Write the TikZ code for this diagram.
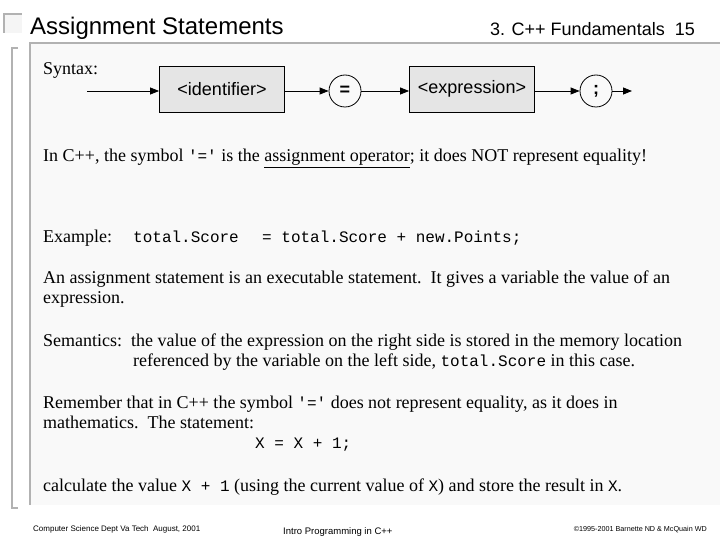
\documentclass[tikz,border=0pt]{standalone}
\usepackage{fontspec}
\setmainfont{Liberation Serif}
\setsansfont{Liberation Sans}
\setmonofont{Liberation Mono}
\usetikzlibrary{arrows.meta}
\newcommand{\cd}[1]{{\fontsize{16}{18}\selectfont\texttt{#1}}}
\tikzset{
  txt/.style={anchor=base west, inner sep=0pt, font=\fontsize{18}{20}\selectfont},
  synbox/.style={draw, thick, fill=gray!20, minimum width=125pt, minimum height=46pt, font=\sffamily\fontsize{18}{20}\selectfont},
  syncirc/.style={draw, thick, circle, minimum size=32pt, inner sep=0pt, font=\sffamily\bfseries\fontsize{18}{20}\selectfont},
  synarr/.style={thick, -{Triangle[length=9pt,width=7pt]}},
  foot/.style={inner sep=0pt, font=\sffamily\fontsize{8}{9}\selectfont}
}
\begin{document}
\begin{tikzpicture}[x=1pt, y=-1pt]
\useasboundingbox (0,0) rectangle (720,540);
% frame
\fill[gray!8] (4,14) rectangle (22,33);
\draw[gray!60, line width=1.5pt] (4,33) -- (4,14) -- (22,14);
\draw[gray!60, line width=1.5pt] (18,48) -- (12,48) -- (12,508) -- (18,508);
\fill[gray!5] (30,43) rectangle (720,505);
\draw[gray!60, line width=1.5pt] (30,505) -- (30,43) -- (720,43);
% header
\node[anchor=base west, inner sep=0pt, font=\sffamily\fontsize{24}{26}\selectfont] (title) at (30,35) {Assignment Statements};
\node[anchor=base east, inner sep=0pt, font=\sffamily\fontsize{18}{20}\selectfont] (chap) at (695,36) {3. C++ Fundamentals\ \ 15};
% syntax diagram
\node[txt] (syn) at (43,75) {Syntax:};
\coordinate (start) at (87,91);
\node[synbox] (ident) at (222,89) {<identifier>};
\node[syncirc] (eq) at (345,91) {=};
\node[synbox] (expr) at (472,89) {<expression>};
\node[syncirc] (semi) at (596,91) {;};
\coordinate (stop) at (632,91);
\draw[synarr] (start) -- (ident.west |- start);
\draw[synarr] (ident.east |- eq) -- (eq);
\draw[synarr] (eq) -- (expr.west |- eq);
\draw[synarr] (expr.east |- semi) -- (semi);
\draw[synarr] (semi) -- (stop);
% body text
\node[txt] (l1) at (43,162) {In C++, the symbol \cd{'='} is the \underline{assignment operator}; it does NOT represent equality!};
\node[txt] (ex) at (43,242) {Example:};
\node[txt] (exa) at (133,242) {\cd{total.Score}};
\node[txt] (exb) at (262,242) {\cd{= total.Score + new.Points;}};
\node[txt] (l2) at (43,283) {An assignment statement is an executable statement.\ \ It gives a variable the value of an};
\node[txt] (l3) at (43,303) {expression.};
\node[txt] (l4) at (43,346) {Semantics:\ \ the value of the expression on the right side is stored in the memory location};
\node[txt] (l5) at (133,366) {referenced by the variable on the left side, \cd{total.Score}\ in this case.};
\node[txt] (l6) at (43,408) {Remember that in C++ the symbol \cd{'='} does not represent equality, as it does in};
\node[txt] (l7) at (43,428) {mathematics.\ \ The statement:};
\node[txt] (l8) at (255,448) {\cd{X = X + 1;}};
\node[txt] (l9) at (43,491) {calculate the value \cd{X + 1} (using the current value of \cd{X}) and store the result in \cd{X}.};
% footer
\node[foot, anchor=base west] (f1) at (33,531) {Computer Science Dept Va Tech\ \ August, 2001};
\node[foot, anchor=base west, font=\sffamily\fontsize{9.5}{10}\selectfont] (f2) at (283,534) {Intro Programming in C++};
\node[foot, anchor=base east, font=\sffamily\fontsize{7.2}{8}\selectfont] (f3) at (707,531) {\textcopyright 1995-2001 Barnette ND \& McQuain WD};
\end{tikzpicture}
\end{document}
